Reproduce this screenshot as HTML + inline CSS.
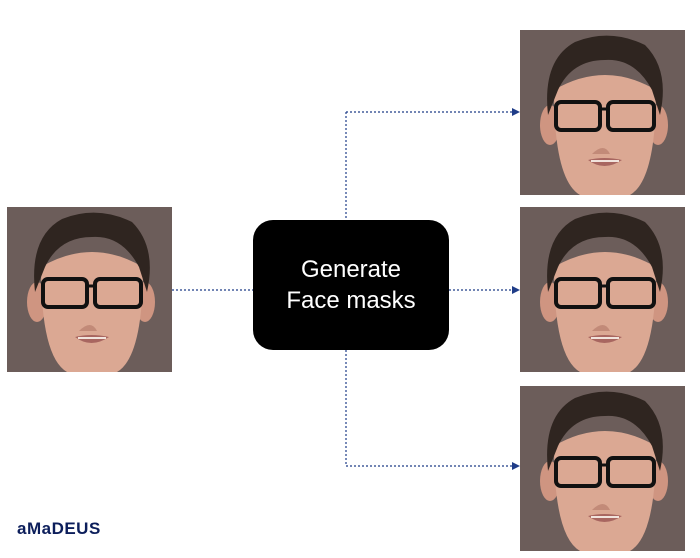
<!DOCTYPE html>
<html><head><meta charset="utf-8"><style>
body{margin:0;width:700px;height:558px;background:#fff;position:relative;overflow:hidden;font-family:"Liberation Sans",sans-serif}
.face{position:absolute;width:165px;height:165px}
#box{position:absolute;left:253px;top:220px;width:196px;height:130px;background:#000;border-radius:20px;color:#fff;font-size:24px;line-height:31px;text-align:center;display:flex;align-items:center;justify-content:center}
#logo{position:absolute;left:17px;top:519px;font-size:17px;font-weight:bold;color:#0c1e5b;letter-spacing:0.5px}
</style></head><body>
<svg width="0" height="0" style="position:absolute">
<defs>
<g id="facesym">
<rect width="165" height="165" fill="#6c5d5a"/>
<ellipse cx="30" cy="95" rx="10" ry="20" fill="#cf9581"/>
<ellipse cx="138" cy="95" rx="10" ry="20" fill="#cf9581"/>
<path d="M34 60 Q34 150 60 165 L110 165 Q136 150 136 60 Q85 30 34 60Z" fill="#dba893"/>
<path d="M28 85 Q22 30 55 12 Q90 -2 125 15 Q150 40 140 85 L132 60 Q115 28 85 30 Q52 30 38 60Z" fill="#2f2520"/>
<rect x="36" y="72" width="44" height="28" rx="5" fill="none" stroke="#111" stroke-width="4"/>
<rect x="88" y="72" width="46" height="28" rx="5" fill="none" stroke="#111" stroke-width="4"/>
<line x1="80" y1="79" x2="88" y2="79" stroke="#111" stroke-width="3"/>
<path d="M72 124 Q84 112 90 124 Z" fill="#c28a78"/>
<path d="M68 130 Q84 126 102 130 Q84 142 68 130Z" fill="#a86660"/>
<path d="M71 131 L99 131" stroke="#f1e3dc" stroke-width="2"/>
</g>
</defs>
</svg>
<svg class="face" style="left:7px;top:207px" viewBox="0 0 165 165"><use href="#facesym"/></svg>
<svg class="face" style="left:520px;top:30px" viewBox="0 0 165 165"><use href="#facesym"/></svg>
<svg class="face" style="left:520px;top:207px" viewBox="0 0 165 165"><use href="#facesym"/></svg>
<svg class="face" style="left:520px;top:386px" viewBox="0 0 165 165"><use href="#facesym"/></svg>
<svg style="position:absolute;left:0;top:0" width="700" height="558">
<g stroke="#1f3c88" stroke-width="1.2" stroke-dasharray="2 2" fill="none">
<line x1="172" y1="290" x2="253" y2="290"/>
<line x1="449" y1="290" x2="514" y2="290"/>
<line x1="346" y1="112" x2="346" y2="220"/>
<line x1="346" y1="350" x2="346" y2="466"/>
<line x1="346" y1="112" x2="514" y2="112"/>
<line x1="346" y1="466" x2="514" y2="466"/>
</g>
<g fill="#1f3c88">
<path d="M520 112 L512 108 L512 116Z"/>
<path d="M520 290 L512 286 L512 294Z"/>
<path d="M520 466 L512 462 L512 470Z"/>
</g>
</svg>
<div id="box">Generate<br>Face masks</div>
<div id="logo">aMaDEUS</div>
</body></html>
